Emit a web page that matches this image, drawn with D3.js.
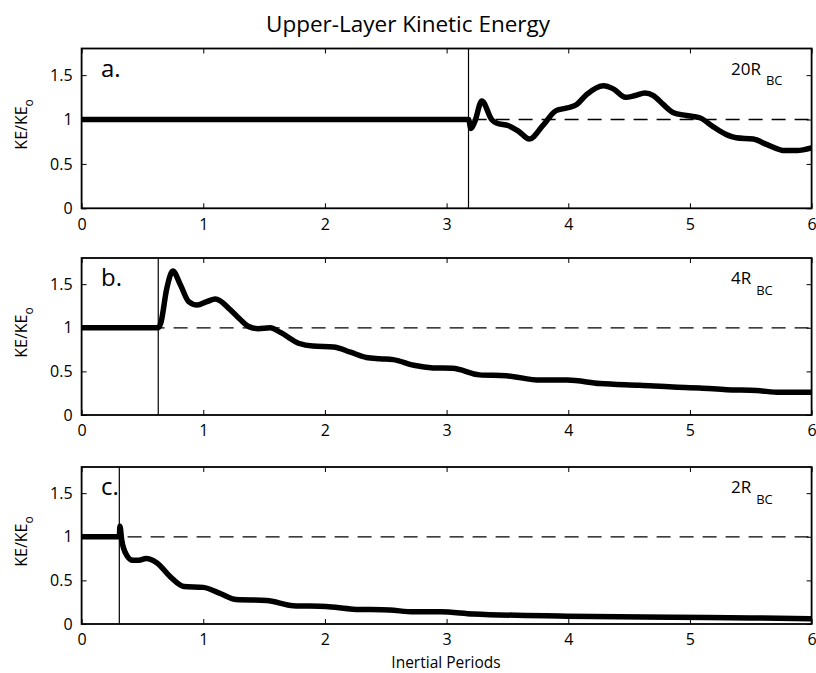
<!DOCTYPE html>
<html>
<head>
<meta charset="utf-8">
<script src="https://cdn.jsdelivr.net/npm/d3@7/dist/d3.min.js"></script>
<style>
  body { margin: 0; background: #fff; }
  svg text { font-family: "Open Sans", sans-serif; fill: #000; }
</style>
</head>
<body>
<svg id="chart" width="816" height="673"></svg>
<script>
// ---- data ----
const xTicks = [0, 1, 2, 3, 4, 5, 6];
const yTicks = [0, 0.5, 1, 1.5];
const panelTags = ["a.", "b.", "c."];
const radiusLabels = ["20R", "4R", "2R"];
const onsetTimes = [3.18, 0.63, 0.31];

// a. 20 R_BC
const timeA = [0, 3.18, 3.20, 3.23, 3.29, 3.37, 3.41, 3.51, 3.59, 3.68, 3.79, 3.90, 3.99, 4.07, 4.15, 4.29,
  4.37, 4.47, 4.55, 4.63, 4.70, 4.78, 4.86, 4.97, 5.08, 5.19, 5.30, 5.38, 5.52, 5.63, 5.78, 5.88, 6.0];
const keA = [1, 1, 0.90, 0.97, 1.21, 1.00, 0.96, 0.93, 0.87, 0.78, 0.93, 1.10, 1.13, 1.17, 1.28, 1.38,
  1.345, 1.25, 1.27, 1.30, 1.27, 1.17, 1.08, 1.045, 1.02, 0.92, 0.83, 0.795, 0.78, 0.72, 0.65, 0.65, 0.68];

// b. 4 R_BC
const timeB = [0, 0.63, 0.65, 0.70, 0.75, 0.81, 0.88, 0.95, 1.03, 1.10, 1.22, 1.30, 1.38, 1.45, 1.55, 1.63,
  1.79, 1.90, 2.07, 2.21, 2.34, 2.45, 2.56, 2.73, 2.89, 3.05, 3.27, 3.49, 3.77, 3.99, 4.26, 4.59, 4.86,
  5.08, 5.30, 5.55, 5.74, 6.0];
const keB = [1, 1, 1.05, 1.45, 1.65, 1.50, 1.30, 1.26, 1.30, 1.33, 1.21, 1.10, 1.01, 0.99, 1.00, 0.95,
  0.82, 0.79, 0.78, 0.72, 0.66, 0.645, 0.635, 0.57, 0.54, 0.535, 0.46, 0.45, 0.40, 0.40, 0.36, 0.34, 0.32,
  0.31, 0.29, 0.28, 0.26, 0.26];

// c. 2 R_BC
const timeC = [0, 0.31, 0.315, 0.33, 0.37, 0.42, 0.47, 0.53, 0.62, 0.73, 0.84, 1.0, 1.14, 1.27, 1.52, 1.74,
  2.01, 2.23, 2.53, 2.73, 2.95, 3.22, 3.99, 4.86, 5.5, 6.0];
const keC = [1, 1, 1.12, 0.96, 0.79, 0.73, 0.73, 0.75, 0.70, 0.54, 0.43, 0.42, 0.35, 0.28, 0.27, 0.21,
  0.20, 0.17, 0.16, 0.14, 0.14, 0.115, 0.09, 0.077, 0.07, 0.06];

const series = [[timeA, keA], [timeB, keB], [timeC, keC]];

// ---- layout ----
const svg = d3.select("#chart");
const plotLeft = 81.6, plotRight = 811.6;
const panelTops = [48.5, 258, 467];
const panelBottoms = [208.3, 415, 624];
const TICK = 5;

const x = d3.scaleLinear().domain([0, 6]).range([plotLeft, plotRight]);

svg.append("text")
  .attr("x", 408).attr("y", 32)
  .attr("text-anchor", "middle")
  .style("font-size", "22.5px")
  .text("Upper-Layer Kinetic Energy");

series.forEach((s, i) => {
  const top = panelTops[i], bottom = panelBottoms[i];
  const y = d3.scaleLinear().domain([0, 1.8]).range([bottom, top]);
  const g = svg.append("g").attr("class", "panel");

  // reference line at KE/KE0 = 1
  g.append("line")
    .attr("x1", x(0)).attr("x2", x(6))
    .attr("y1", y(1)).attr("y2", y(1))
    .attr("stroke", "#000").attr("stroke-width", 1.3)
    .attr("stroke-dasharray", "14,9");

  // onset marker
  g.append("line")
    .attr("x1", x(onsetTimes[i])).attr("x2", x(onsetTimes[i]))
    .attr("y1", top).attr("y2", bottom)
    .attr("stroke", "#000").attr("stroke-width", 1.2);

  const pts = s[0].map((t, k) => [t, s[1][k]]);
  g.append("path")
    .datum(pts)
    .attr("fill", "none")
    .attr("stroke", "#000")
    .attr("stroke-width", 5.5)
    .attr("stroke-linejoin", "round")
    .attr("d", d3.line()
      .x(d => x(d[0]))
      .y(d => y(d[1]))
      .curve(d3.curveMonotoneX));

  // axes, inward ticks on all four sides (matlab box)
  const xAxis = g.append("g")
    .attr("transform", `translate(0,${bottom})`)
    .call(d3.axisBottom(x).tickValues(xTicks).tickSizeInner(-TICK).tickSizeOuter(0).tickPadding(10).tickFormat(d3.format("d")));
  const yAxis = g.append("g")
    .attr("transform", `translate(${plotLeft},0)`)
    .call(d3.axisLeft(y).tickValues(yTicks).tickSizeInner(-TICK).tickSizeOuter(0).tickPadding(9).tickFormat(d => d));
  const topAxis = g.append("g")
    .attr("transform", `translate(0,${top})`)
    .call(d3.axisTop(x).tickValues(xTicks).tickSizeInner(-TICK).tickSizeOuter(0).tickFormat(""));
  const rightAxis = g.append("g")
    .attr("transform", `translate(${plotRight},0)`)
    .call(d3.axisRight(y).tickValues(yTicks).tickSizeInner(-TICK).tickSizeOuter(0).tickFormat(""));

  [xAxis, yAxis, topAxis, rightAxis].forEach(a => {
    a.select(".domain").remove();
    a.selectAll(".tick line").attr("stroke", "#000").attr("stroke-width", 1);
    a.selectAll("text").style("font-size", "16px").style("font-family", '"Open Sans", sans-serif').attr("fill", "#000");
  });

  g.append("rect")
    .attr("x", plotLeft).attr("y", top)
    .attr("width", plotRight - plotLeft).attr("height", bottom - top)
    .attr("fill", "none").attr("stroke", "#000").attr("stroke-width", 1.8);

  // panel tag
  g.append("text")
    .attr("x", 101).attr("y", top + 28)
    .style("font-size", "24px")
    .text(panelTags[i]);

  // radius label with subscript
  const rl = g.append("text")
    .attr("x", 731).attr("y", top + 26)
    .style("font-size", "17px");
  rl.append("tspan").text(radiusLabels[i]);
  rl.append("tspan").attr("dx", 5).attr("dy", 10.5).style("font-size", "13px").text("BC");

  // y label
  const yl = g.append("text")
    .attr("transform", `translate(27,${(top + bottom) / 2 - 4}) rotate(-90)`)
    .attr("text-anchor", "middle")
    .style("font-size", "16px");
  yl.append("tspan").text("KE/KE");
  yl.append("tspan").attr("dy", 6).style("font-size", "12px").text("o");
});

svg.append("text")
  .attr("x", 446).attr("y", 668)
  .attr("text-anchor", "middle")
  .style("font-size", "15.5px")
  .text("Inertial Periods");
</script>
</body>
</html>
